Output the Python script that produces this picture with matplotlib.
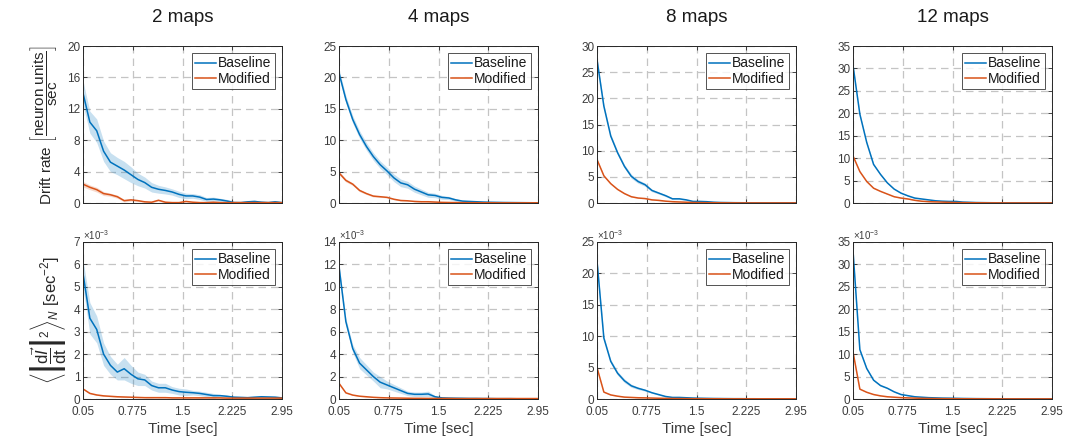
import numpy as np
import matplotlib
matplotlib.use("Agg")
import matplotlib.pyplot as plt
from matplotlib.ticker import FixedLocator, FuncFormatter

plt.rcParams['font.family'] = ['Liberation Sans', 'DejaVu Sans']
plt.rcParams['mathtext.fontset'] = 'custom'
plt.rcParams['mathtext.rm'] = 'Liberation Sans'
plt.rcParams['mathtext.it'] = 'Liberation Sans:italic'
plt.rcParams['mathtext.bf'] = 'Liberation Sans:bold'

# ---------------- data ----------------
time = np.linspace(0.05, 2.95, 30)
titles = ["2 maps", "4 maps", "8 maps", "12 maps"]
xticks = [0.05, 0.775, 1.5, 2.225, 2.95]
xticklabels = ["0.05", "0.775", "1.5", "2.225", "2.95"]

# Drift rate (top row)
drift_base_2 = [14.0, 10.3, 9.2, 6.6, 5.2, 4.7, 4.2, 3.6, 3.0, 2.6, 2.0, 1.75, 1.6, 1.4, 1.1,
                0.9, 0.9, 0.75, 0.45, 0.5, 0.4, 0.25, 0.05, 0.05, 0.15, 0.2, 0.1, 0.05, 0.15, 0.05]
drift_base_2_err = [1.5, 1.4, 1.5, 1.3, 1.2, 1.1, 1.1, 1.0, 0.8, 0.7, 0.6, 0.5, 0.45, 0.4, 0.4,
                    0.35, 0.3, 0.3, 0.25, 0.25, 0.2, 0.2, 0.2, 0.15, 0.15, 0.15, 0.15, 0.15, 0.15, 0.1]
drift_mod_2 = [2.4, 2.0, 1.7, 1.2, 1.05, 0.8, 0.3, 0.4, 0.3, 0.15, 0.1, 0.35, 0.1, 0.05, 0.05,
               0.2, 0.1, 0.05, 0.05, 0.1, 0.05, 0.05, 0.05, 0.05, 0.05, 0.05, 0.05, 0.05, 0.05, 0.05]
drift_mod_2_err = [0.35, 0.3, 0.3, 0.25, 0.2, 0.2, 0.15, 0.15, 0.1, 0.1, 0.1, 0.1, 0.1, 0.05, 0.05,
                   0.05, 0.05, 0.05, 0.05, 0.05, 0.05, 0.05, 0.05, 0.05, 0.05, 0.05, 0.05, 0.05, 0.05, 0.05]

drift_base_4 = [20.7, 16.5, 13.3, 10.9, 9.0, 7.4, 6.1, 5.1, 4.0, 3.2, 2.9, 2.2, 1.75, 1.3, 1.2,
                0.9, 0.8, 0.5, 0.3, 0.25, 0.2, 0.15, 0.12, 0.1, 0.08, 0.07, 0.06, 0.05, 0.04, 0.03]
drift_base_4_err = [0.6, 0.6, 0.6, 0.6, 0.6, 0.6, 0.6, 0.6, 0.6, 0.6, 0.55, 0.5, 0.45, 0.4, 0.35,
                    0.3, 0.25, 0.2, 0.15, 0.1, 0.1, 0.1, 0.1, 0.1, 0.1, 0.1, 0.1, 0.1, 0.1, 0.1]
drift_mod_4 = [4.8, 3.6, 3.0, 2.0, 1.5, 1.1, 1.0, 0.9, 0.6, 0.4, 0.35, 0.25, 0.2, 0.2, 0.15,
               0.1, 0.08, 0.07, 0.06, 0.05, 0.05, 0.04, 0.04, 0.03, 0.03, 0.03, 0.03, 0.03, 0.03, 0.03]
drift_mod_4_err = [0.25, 0.25, 0.2, 0.2, 0.15, 0.15, 0.1, 0.1, 0.1, 0.1, 0.05, 0.05, 0.05, 0.05, 0.05,
                   0.05, 0.05, 0.05, 0.05, 0.05, 0.05, 0.05, 0.05, 0.05, 0.05, 0.05, 0.05, 0.05, 0.05, 0.05]

drift_base_8 = [27.4, 18.5, 12.8, 9.6, 7.0, 5.1, 4.1, 3.5, 2.4, 1.9, 1.4, 0.8, 0.8, 0.6, 0.3,
                0.3, 0.25, 0.15, 0.1, 0.08, 0.06, 0.05, 0.04, 0.03, 0.03, 0.02, 0.02, 0.02, 0.02, 0.02]
drift_base_8_err = [0.4, 0.4, 0.4, 0.35, 0.35, 0.4, 0.35, 0.3, 0.25, 0.2, 0.2, 0.15, 0.15, 0.1, 0.1,
                    0.1, 0.1, 0.1, 0.1, 0.05, 0.05, 0.05, 0.05, 0.05, 0.05, 0.05, 0.05, 0.05, 0.05, 0.05]
drift_mod_8 = [8.3, 5.2, 3.7, 2.6, 1.8, 1.2, 0.95, 0.85, 0.6, 0.5, 0.35, 0.25, 0.2, 0.15, 0.1,
               0.08, 0.06, 0.05, 0.04, 0.03, 0.03, 0.02, 0.02, 0.02, 0.02, 0.02, 0.02, 0.02, 0.02, 0.02]
drift_mod_8_err = [0.15, 0.15, 0.1, 0.1, 0.1, 0.1, 0.05, 0.05, 0.05, 0.05, 0.05, 0.05, 0.05, 0.05, 0.05,
                   0.05, 0.05, 0.05, 0.05, 0.05, 0.05, 0.05, 0.05, 0.05, 0.05, 0.05, 0.05, 0.05, 0.05, 0.05]

drift_base_12 = [30.7, 19.8, 13.5, 8.6, 6.4, 4.5, 3.1, 2.2, 1.6, 1.1, 0.9, 0.7, 0.5, 0.4, 0.35,
                 0.35, 0.2, 0.15, 0.1, 0.08, 0.06, 0.05, 0.04, 0.03, 0.03, 0.02, 0.02, 0.02, 0.02, 0.02]
drift_base_12_err = [0.2, 0.2, 0.2, 0.2, 0.15, 0.15, 0.1, 0.1, 0.1, 0.1, 0.05, 0.05, 0.05, 0.05, 0.05,
                     0.05, 0.05, 0.05, 0.05, 0.05, 0.05, 0.05, 0.05, 0.05, 0.05, 0.05, 0.05, 0.05, 0.05, 0.05]
drift_mod_12 = [10.5, 7.0, 4.8, 3.3, 2.6, 2.0, 1.4, 1.1, 0.9, 0.6, 0.4, 0.3, 0.25, 0.2, 0.15,
                0.1, 0.08, 0.06, 0.05, 0.04, 0.03, 0.03, 0.02, 0.02, 0.02, 0.02, 0.02, 0.02, 0.02, 0.02]
drift_mod_12_err = [0.1, 0.1, 0.1, 0.1, 0.05, 0.05, 0.05, 0.05, 0.05, 0.05, 0.05, 0.05, 0.05, 0.05, 0.05,
                    0.05, 0.05, 0.05, 0.05, 0.05, 0.05, 0.05, 0.05, 0.05, 0.05, 0.05, 0.05, 0.05, 0.05, 0.05]

# Mean squared derivative (bottom row), in units of 1e-3
deriv_base_2 = [5.6, 3.6, 3.1, 2.0, 1.5, 1.2, 1.35, 1.1, 0.9, 0.85, 0.6, 0.5, 0.5, 0.4, 0.33,
                0.3, 0.28, 0.25, 0.2, 0.15, 0.15, 0.12, 0.08, 0.07, 0.06, 0.08, 0.1, 0.09, 0.08, 0.05]
deriv_base_2_err = [0.6, 0.7, 0.6, 0.5, 0.4, 0.35, 0.5, 0.4, 0.3, 0.25, 0.2, 0.2, 0.2, 0.15, 0.15,
                    0.15, 0.1, 0.1, 0.1, 0.1, 0.05, 0.05, 0.05, 0.05, 0.05, 0.05, 0.05, 0.05, 0.05, 0.05]
deriv_mod_2 = [0.45, 0.25, 0.18, 0.14, 0.12, 0.1, 0.09, 0.08, 0.07, 0.06, 0.06, 0.06, 0.06, 0.05, 0.05,
               0.05, 0.05, 0.05, 0.05, 0.05, 0.05, 0.04, 0.04, 0.04, 0.04, 0.04, 0.04, 0.04, 0.04, 0.04]
deriv_mod_2_err = [0.03, 0.02, 0.02, 0.02, 0.02, 0.02, 0.02, 0.02, 0.02, 0.02, 0.02, 0.02, 0.02, 0.02, 0.02,
                   0.02, 0.02, 0.02, 0.02, 0.02, 0.02, 0.02, 0.02, 0.02, 0.02, 0.02, 0.02, 0.02, 0.02, 0.02]

deriv_base_4 = [11.8, 6.9, 4.5, 3.2, 2.6, 2.0, 1.5, 1.25, 1.0, 0.75, 0.5, 0.42, 0.42, 0.45, 0.2,
                0.1, 0.08, 0.07, 0.06, 0.05, 0.05, 0.04, 0.04, 0.03, 0.03, 0.03, 0.02, 0.02, 0.02, 0.02]
deriv_base_4_err = [0.3, 0.3, 0.35, 0.5, 0.45, 0.4, 0.5, 0.35, 0.3, 0.25, 0.2, 0.2, 0.2, 0.25, 0.1,
                    0.05, 0.05, 0.05, 0.05, 0.05, 0.05, 0.05, 0.05, 0.05, 0.05, 0.05, 0.05, 0.05, 0.05, 0.05]
deriv_mod_4 = [1.4, 0.55, 0.35, 0.25, 0.2, 0.15, 0.12, 0.1, 0.09, 0.08, 0.07, 0.06, 0.06, 0.05, 0.05,
               0.05, 0.05, 0.04, 0.04, 0.04, 0.04, 0.04, 0.04, 0.04, 0.04, 0.04, 0.04, 0.04, 0.04, 0.04]
deriv_mod_4_err = [0.05, 0.04, 0.03, 0.03, 0.03, 0.03, 0.02, 0.02, 0.02, 0.02, 0.02, 0.02, 0.02, 0.02, 0.02,
                   0.02, 0.02, 0.02, 0.02, 0.02, 0.02, 0.02, 0.02, 0.02, 0.02, 0.02, 0.02, 0.02, 0.02, 0.02]

deriv_base_8 = [22.0, 9.7, 6.0, 4.1, 2.9, 2.1, 1.7, 1.4, 1.0, 0.7, 0.4, 0.25, 0.25, 0.2, 0.15,
                0.12, 0.1, 0.08, 0.07, 0.06, 0.05, 0.05, 0.04, 0.04, 0.03, 0.03, 0.03, 0.03, 0.03, 0.03]
deriv_base_8_err = [0.3, 0.3, 0.3, 0.3, 0.3, 0.25, 0.2, 0.15, 0.1, 0.1, 0.1, 0.05, 0.05, 0.05, 0.05,
                    0.05, 0.05, 0.05, 0.05, 0.05, 0.05, 0.05, 0.05, 0.05, 0.05, 0.05, 0.05, 0.05, 0.05, 0.05]
deriv_mod_8 = [5.0, 1.1, 0.65, 0.45, 0.3, 0.25, 0.2, 0.18, 0.15, 0.12, 0.1, 0.08, 0.07, 0.06, 0.05,
               0.05, 0.04, 0.04, 0.04, 0.03, 0.03, 0.03, 0.03, 0.03, 0.03, 0.03, 0.03, 0.03, 0.03, 0.03]
deriv_mod_8_err = [0.1, 0.05, 0.05, 0.05, 0.05, 0.05, 0.05, 0.05, 0.05, 0.05, 0.05, 0.05, 0.05, 0.05, 0.05,
                   0.05, 0.05, 0.05, 0.05, 0.05, 0.05, 0.05, 0.05, 0.05, 0.05, 0.05, 0.05, 0.05, 0.05, 0.05]

deriv_base_12 = [33.0, 11.0, 6.8, 4.2, 3.0, 2.4, 1.6, 1.0, 0.75, 0.5, 0.4, 0.3, 0.25, 0.2, 0.18,
                 0.15, 0.12, 0.1, 0.08, 0.07, 0.06, 0.05, 0.05, 0.04, 0.04, 0.04, 0.03, 0.03, 0.03, 0.03]
deriv_base_12_err = [0.2, 0.2, 0.2, 0.15, 0.15, 0.1, 0.1, 0.1, 0.05, 0.05, 0.05, 0.05, 0.05, 0.05, 0.05,
                     0.05, 0.05, 0.05, 0.05, 0.05, 0.05, 0.05, 0.05, 0.05, 0.05, 0.05, 0.05, 0.05, 0.05, 0.05]
deriv_mod_12 = [10.5, 2.2, 1.5, 1.0, 0.7, 0.5, 0.4, 0.3, 0.25, 0.2, 0.15, 0.12, 0.1, 0.08, 0.07,
                0.06, 0.05, 0.05, 0.04, 0.04, 0.04, 0.03, 0.03, 0.03, 0.03, 0.03, 0.03, 0.03, 0.03, 0.03]
deriv_mod_12_err = [0.1, 0.05, 0.05, 0.05, 0.05, 0.05, 0.05, 0.05, 0.05, 0.05, 0.05, 0.05, 0.05, 0.05, 0.05,
                    0.05, 0.05, 0.05, 0.05, 0.05, 0.05, 0.05, 0.05, 0.05, 0.05, 0.05, 0.05, 0.05, 0.05, 0.05]

top_series = [
    (drift_base_2, drift_base_2_err, drift_mod_2, drift_mod_2_err),
    (drift_base_4, drift_base_4_err, drift_mod_4, drift_mod_4_err),
    (drift_base_8, drift_base_8_err, drift_mod_8, drift_mod_8_err),
    (drift_base_12, drift_base_12_err, drift_mod_12, drift_mod_12_err),
]
bottom_series = [
    (deriv_base_2, deriv_base_2_err, deriv_mod_2, deriv_mod_2_err),
    (deriv_base_4, deriv_base_4_err, deriv_mod_4, deriv_mod_4_err),
    (deriv_base_8, deriv_base_8_err, deriv_mod_8, deriv_mod_8_err),
    (deriv_base_12, deriv_base_12_err, deriv_mod_12, deriv_mod_12_err),
]
top_yticks = [[0, 4, 8, 12, 16, 20], [0, 5, 10, 15, 20, 25], [0, 5, 10, 15, 20, 25, 30],
              [0, 5, 10, 15, 20, 25, 30, 35]]
bottom_yticks = [[0, 1, 2, 3, 4, 5, 6, 7], [0, 2, 4, 6, 8, 10, 12, 14], [0, 5, 10, 15, 20, 25],
                 [0, 5, 10, 15, 20, 25, 30, 35]]
deriv_scale = 1e-3

# ---------------- style ----------------
BLUE = '#0072BD'
ORANGE = '#D95319'
AX_COLOR = '#262626'
TICK_COLOR = '#3c3c3c'
GRID_COLOR = '#c4c4c4'

W, H = 1065, 445
fig = plt.figure(figsize=(W / 100, H / 100), dpi=100)

lefts = [83, 339, 597, 853]
aw = 199
top_y = (46, 203)
bot_y = (242, 399)


def make_ax(xl, ys):
    y0, y1 = ys
    return fig.add_axes([xl / W, 1 - y1 / H, aw / W, (y1 - y0) / H])


def style_ax(ax, yt, show_xlabels, scale=1.0):
    ax.set_xlim(0.05, 2.95)
    ax.set_ylim(yt[0] * scale, yt[-1] * scale)
    ax.xaxis.set_major_locator(FixedLocator(xticks))
    ax.yaxis.set_major_locator(FixedLocator([v * scale for v in yt]))
    if show_xlabels:
        ax.set_xticklabels(xticklabels)
    else:
        ax.set_xticklabels([])
    ax.yaxis.set_major_formatter(FuncFormatter(lambda v, p: f"{v / scale:g}"))
    ax.tick_params(direction='in', length=3, width=0.6, colors=AX_COLOR,
                   labelcolor=TICK_COLOR, labelsize=8.5, top=True, right=True)
    ax.tick_params(axis='y', pad=2)
    ax.tick_params(axis='x', pad=5)
    for s in ax.spines.values():
        s.set_color(AX_COLOR)
        s.set_linewidth(0.7)
    ax.grid(True, color=GRID_COLOR, linestyle=(0, (6, 4)), linewidth=0.9)
    ax.set_axisbelow(True)


def draw(ax, series, scale=1.0):
    b, be, m, me = [np.asarray(s, dtype=float) * scale for s in series]
    ax.fill_between(time, b - be, b + be, color=BLUE, alpha=0.22, linewidth=0)
    ax.fill_between(time, m - me, m + me, color=ORANGE, alpha=0.22, linewidth=0)
    ax.plot(time, b, color=BLUE, lw=1.1, label='Baseline')
    ax.plot(time, m, color=ORANGE, lw=1.1, label='Modified')
    leg = ax.legend(loc='upper right', fontsize=10, frameon=True, fancybox=False,
                    handlelength=1.5, handletextpad=0.15, borderpad=0.25,
                    labelspacing=0.1, borderaxespad=0.5)
    leg.get_frame().set_edgecolor(AX_COLOR)
    leg.get_frame().set_linewidth(0.7)
    for t in leg.get_texts():
        t.set_color('#1a1a1a')


for i in range(4):
    ax = make_ax(lefts[i], top_y)
    draw(ax, top_series[i])
    style_ax(ax, top_yticks[i], False)
    fig.text((lefts[i] + aw / 2) / W, 1 - 17 / H, titles[i], ha='center', va='center',
             fontsize=13.5, color='#1a1a1a')
    if i == 0:
        ax.set_ylabel(r'Drift rate $\left[\dfrac{\mathrm{neuron\ units}}{\mathrm{sec}}\right]$',
                      fontsize=11, color='#262626', labelpad=6)

    axb = make_ax(lefts[i], bot_y)
    draw(axb, bottom_series[i], deriv_scale)
    style_ax(axb, bottom_yticks[i], True, deriv_scale)
    axb.set_xlabel('Time [sec]', fontsize=11, color='#3c3c3c', labelpad=3)
    axb.text(0.0, 1.0, r'$\times10^{-3}$', transform=axb.transAxes, ha='left', va='bottom',
             fontsize=7, color=TICK_COLOR)
    if i == 0:
        axb.set_ylabel(r'$\left\langle \left| \dfrac{\mathrm{d}\vec{I}}{\mathrm{dt}} \right|^{2} \right\rangle_{N}$ [sec$^{-2}$]',
                       fontsize=12, color='#262626', labelpad=4)

fig.savefig('out.png', dpi=100)
